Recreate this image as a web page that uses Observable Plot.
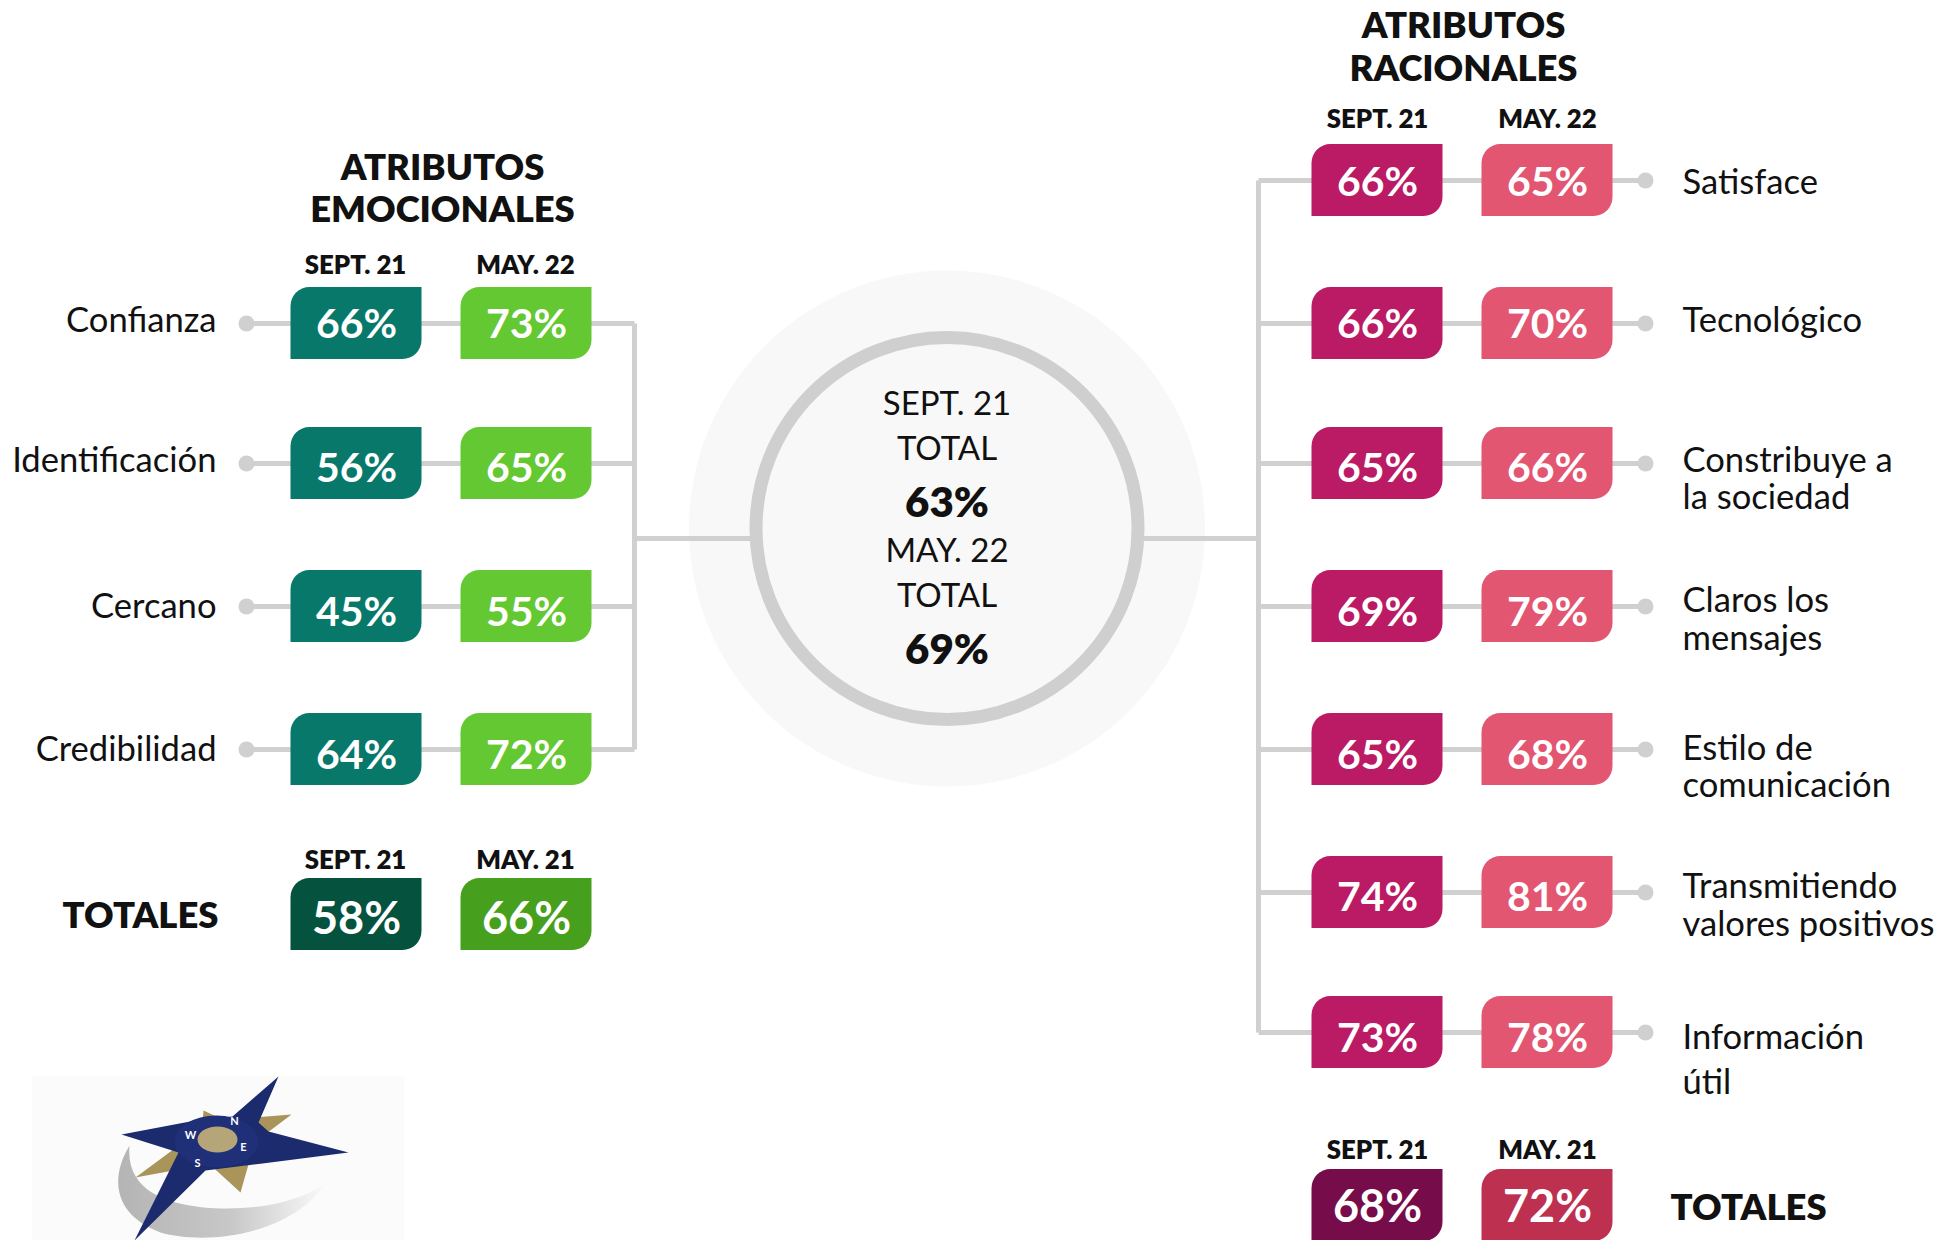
<!DOCTYPE html>
<html lang="es">
<head>
<meta charset="utf-8">
<title>Atributos emocionales y racionales</title>
<script src="https://cdn.jsdelivr.net/npm/d3@7"></script>
<script src="https://cdn.jsdelivr.net/npm/@observablehq/plot@0.6"></script>
<style>html,body{margin:0;padding:0;background:#fff}svg{display:block}</style>
</head>
<body>
<div id="chart"></div>
<script>
// ---- data ----
const emotionalNames = ["Confianza", "Identificación", "Cercano", "Credibilidad"];
const emotionalSept21 = [66, 56, 45, 64];
const emotionalMay22 = [73, 65, 55, 72];
const emotionalTotals = [58, 66];

const rationalNames = [
  ["Satisface"], ["Tecnológico"], ["Constribuye a", "la sociedad"], ["Claros los", "mensajes"],
  ["Estilo de", "comunicación"], ["Transmitiendo", "valores positivos"], ["Información", "útil"]
];
const rationalSept21 = [66, 66, 65, 69, 65, 74, 73];
const rationalMay22 = [65, 70, 66, 79, 68, 81, 78];
const rationalTotals = [68, 72];

const overallTotals = [63, 69];
const headerPeriods = ["SEPT. 21", "MAY. 22"];
const totalPeriods = ["SEPT. 21", "MAY. 21"];

// ---- layout ----
const W = 1948, H = 1240, FONT = "Lato, Carlito, Calibri, sans-serif";
const rowY = [180, 323, 463, 606, 749, 892, 1032];
const emoRowY = [323, 463, 606, 749];
const emoTotalY = 914, ratTotalY = 1205;
const emoX = [356, 526], ratX = [1377, 1547], boxW = 131, boxH = 72;
const emoSpine = 634, ratSpine = 1258, cx = 946.5, cy = 528, spineY = 538;
const GREY = "#d0d0d0";
const C = {emo: ["#07786a", "#64c832"], emoT: ["#05533f", "#479f1e"], rat: ["#bb1a64", "#e25671"], ratT: ["#760c49", "#bd304f"]};
const emoDy = [1, 5, 6, 6], ratDy = [2, 1, 5, 6, 6, 5, 6];

const boxes = [
  ...emotionalSept21.map((v, i) => ({v, x: emoX[0], y: emoRowY[i], dy: emoDy[i], c: C.emo[0], s: 41})),
  ...emotionalMay22.map((v, i) => ({v, x: emoX[1], y: emoRowY[i], dy: emoDy[i], c: C.emo[1], s: 41})),
  ...emotionalTotals.map((v, i) => ({v, x: emoX[i], y: emoTotalY, dy: 5, c: C.emoT[i], s: 45})),
  ...rationalSept21.map((v, i) => ({v, x: ratX[0], y: rowY[i], dy: ratDy[i], c: C.rat[0], s: 41})),
  ...rationalMay22.map((v, i) => ({v, x: ratX[1], y: rowY[i], dy: ratDy[i], c: C.rat[1], s: 41})),
  ...rationalTotals.map((v, i) => ({v, x: ratX[i], y: ratTotalY, dy: 2, c: C.ratT[i], s: 45}))
];

const emoDotX = 246, ratDotX = 1645;
const segments = [
  ...emoRowY.map(y => [emoDotX, y, emoSpine, y]),
  ...rowY.map(y => [ratSpine, y, ratDotX, y]),
  [emoSpine, emoRowY[0], emoSpine, emoRowY[3]],
  [ratSpine, rowY[0], ratSpine, rowY[6]],
  [emoSpine, spineY, cx, spineY],
  [cx, spineY, ratSpine, spineY]
];
const dots = [...emoRowY.map(y => [emoDotX, y]), ...rowY.map(y => [ratDotX, y])];

const ratOffsets = [[2], [-3], [-3, 34], [-6, 32], [-1, 36], [-6, 32], [5, 50]];
const ratLines = rationalNames.flatMap((lines, i) =>
  lines.map((t, j) => ({t, x: 1682, y: rowY[i] + ratOffsets[i][j]})));
const emoOffsets = [-3, -3, 0, 0];
const emoLines = emotionalNames.map((t, i) => ({t, x: 216, y: emoRowY[i] + emoOffsets[i]}));

const periods = [
  ...headerPeriods.map((t, i) => ({t, x: emoX[i] - 1, y: 265})),
  ...totalPeriods.map((t, i) => ({t, x: emoX[i] - 1, y: 860})),
  ...headerPeriods.map((t, i) => ({t, x: ratX[i], y: 119})),
  ...totalPeriods.map((t, i) => ({t, x: ratX[i], y: 1150}))
];
const titles = [
  {t: "ATRIBUTOS", x: 442, y: 168}, {t: "EMOCIONALES", x: 442, y: 210},
  {t: "ATRIBUTOS", x: 1463, y: 26}, {t: "RACIONALES", x: 1463, y: 69}
];
const totalsLeft = [{t: "TOTALES", x: 218, y: 916}];
const totalsRight = [{t: "TOTALES", x: 1670, y: 1208}];
const centerPlain = [
  {t: headerPeriods[0], y: 404}, {t: "TOTAL", y: 449},
  {t: headerPeriods[1], y: 551}, {t: "TOTAL", y: 596}
];
const centerBold = [{t: overallTotals[0] + "%", y: 503}, {t: overallTotals[1] + "%", y: 650}];

// Decorative compass logo, embedded as a picture (not data)
const logoSvg = `<svg xmlns="http://www.w3.org/2000/svg" viewBox="31 1075 373 165" width="373" height="165">
<defs><linearGradient id="g" x1="0" x2="1" y1="0" y2="0"><stop offset="0" stop-color="#b4b4b4"/><stop offset=".55" stop-color="#c8c8c8"/><stop offset="1" stop-color="#fafafa"/></linearGradient></defs>
<rect x="31" y="1075" width="373" height="165" fill="#fbfbfb"/>
<path d="M129 1145C108 1180 115 1215 160 1232C205 1245 290 1235 325 1183C290 1207 240 1210 203 1207C165 1203 125 1190 129 1145Z" fill="url(#g)"/>
<path d="M203 1110L235 1125L200 1145ZM291 1114L250 1145L240 1118ZM135 1177L185 1140L200 1165ZM240 1192L205 1160L252 1150Z" fill="#a9955a"/>
<path d="M278 1076L258 1122L268 1131L348 1152L262 1163L205 1170L134 1240L178 1152L121 1134L195 1120L232 1116Z" fill="#1c2b6e"/>
<ellipse cx="216" cy="1141" rx="42" ry="26" fill="#1f2f78"/>
<ellipse cx="217" cy="1139" rx="20" ry="13" fill="#b5a578"/>
<g fill="#fff" font-family="Lato" font-weight="700" font-size="11" text-anchor="middle"><text x="234" y="1124">N</text><text x="190" y="1138">W</text><text x="243" y="1150">E</text><text x="197" y="1166">S</text></g>
</svg>`;
const logoSrc = "data:image/svg+xml;charset=utf-8," + encodeURIComponent(logoSvg);

const textMark = (data, o) => Plot.text(data, {x: "x", y: "y", text: "t", fontFamily: FONT, fill: "#111", ...o});

const chart = Plot.plot({
  width: W, height: H,
  marginTop: 0, marginRight: 0, marginBottom: 0, marginLeft: 0,
  x: {domain: [0, W], range: [0, W], axis: null},
  y: {domain: [0, H], range: [0, H], axis: null},
  style: {background: "#fff"},
  marks: [
    Plot.image([0], {x: () => 217.5, y: () => 1157.5, width: 373, height: 165, src: () => logoSrc}),
    Plot.dot([0], {x: () => cx, y: () => cy, r: 258, fill: "#f8f8f8"}),
    Plot.link(segments, {x1: d => d[0], y1: d => d[1], x2: d => d[2], y2: d => d[3], stroke: GREY, strokeWidth: 5}),
    Plot.dot([0], {x: () => cx, y: () => cy, r: 191, fill: "#f8f8f8", stroke: "#cfcfcf", strokeWidth: 13}),
    Plot.dot(dots, {x: d => d[0], y: d => d[1], r: 8, fill: GREY}),
    Plot.rect(boxes, {
      x1: d => d.x - boxW / 2, x2: d => d.x + boxW / 2,
      y1: d => d.y - boxH / 2, y2: d => d.y + boxH / 2,
      fill: d => d.c, rx1y1: 19, rx2y2: 19
    }),
    Plot.text(boxes, {x: "x", y: d => d.y + d.dy, text: d => d.v + "%", fontFamily: FONT, fontWeight: 700, fill: "#fff", fontSize: d => d.s}),
    textMark(emoLines, {textAnchor: "end", fontSize: 34.6}),
    textMark(ratLines, {textAnchor: "start", fontSize: 34.6}),
    textMark(periods, {fontWeight: 800, fontSize: 25.8}),
    textMark(titles, {fontWeight: 800, fontSize: 36.4}),
    textMark(totalsLeft, {textAnchor: "end", fontWeight: 800, fontSize: 36.4}),
    textMark(totalsRight, {textAnchor: "start", fontWeight: 800, fontSize: 36.4}),
    textMark(centerPlain, {x: () => cx, fontSize: 33}),
    textMark(centerBold, {x: () => cx, fontWeight: 800, fontSize: 42})
  ]
});
document.getElementById("chart").append(chart);
</script>
</body>
</html>
